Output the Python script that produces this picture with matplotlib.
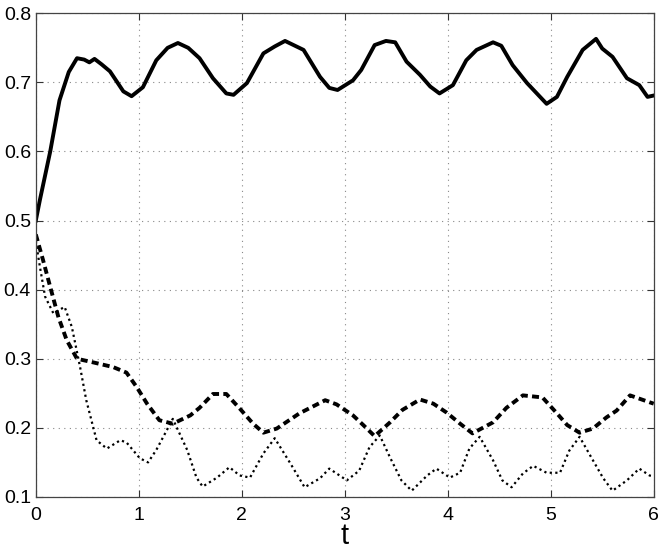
import matplotlib
matplotlib.use("Agg")
import matplotlib.pyplot as plt

# solid curve (top)
t_solid = [0.0, 0.04, 0.14, 0.23, 0.32, 0.40, 0.47, 0.52, 0.57, 0.64, 0.72, 0.85, 0.93, 1.04, 1.17, 1.28, 1.38, 1.48, 1.59,
           1.72, 1.85, 1.92, 2.05, 2.21, 2.32, 2.42, 2.6, 2.76, 2.85, 2.93, 3.08, 3.16, 3.29, 3.40, 3.49,
           3.6, 3.73, 3.83, 3.92, 4.05, 4.18, 4.28, 4.44, 4.52, 4.63, 4.77, 4.96, 5.06, 5.16, 5.31, 5.44,
           5.5, 5.6, 5.74, 5.86, 5.94, 6.0]
y_solid = [0.50, 0.53, 0.60, 0.674, 0.715, 0.735, 0.733, 0.729, 0.734, 0.726, 0.716, 0.687, 0.680, 0.693, 0.732, 0.750, 0.757, 0.750, 0.735,
           0.706, 0.684, 0.682, 0.699, 0.742, 0.752, 0.760, 0.747, 0.708, 0.692, 0.689, 0.703, 0.718, 0.754, 0.760, 0.758,
           0.730, 0.711, 0.694, 0.684, 0.696, 0.732, 0.747, 0.758, 0.753, 0.725, 0.699, 0.669, 0.679, 0.708, 0.747, 0.763,
           0.749, 0.737, 0.706, 0.696, 0.679, 0.681]

# dashed curve (middle)
t_dash = [0.0, 0.07, 0.14, 0.22, 0.30, 0.40, 0.55, 0.75, 0.88, 0.98, 1.08, 1.2, 1.33, 1.5, 1.59, 1.72, 1.85,
          1.98, 2.11, 2.21, 2.34, 2.56, 2.81, 2.92, 3.08, 3.18, 3.29, 3.44, 3.56, 3.73, 3.86, 3.99, 4.12,
          4.24, 4.44, 4.57, 4.73, 4.92, 5.06, 5.16, 5.28, 5.41, 5.54, 5.64, 5.77, 5.96, 6.0]
y_dash = [0.48, 0.443, 0.404, 0.36, 0.327, 0.300, 0.295, 0.288, 0.280, 0.259, 0.235, 0.211, 0.206, 0.218, 0.229, 0.249, 0.249,
          0.228, 0.206, 0.193, 0.199, 0.221, 0.240, 0.234, 0.218, 0.204, 0.188, 0.208, 0.226, 0.241, 0.235, 0.222, 0.206,
          0.192, 0.208, 0.229, 0.247, 0.244, 0.221, 0.204, 0.193, 0.199, 0.215, 0.225, 0.247, 0.237, 0.235]

# dotted curve (bottom)
t_dot = [0.0, 0.04, 0.09, 0.17, 0.28, 0.35, 0.43, 0.49, 0.59, 0.69, 0.82, 0.88, 1.01, 1.09, 1.17, 1.27, 1.33,
         1.47, 1.56, 1.62, 1.76, 1.88, 1.98, 2.08, 2.21, 2.32, 2.47, 2.61, 2.76, 2.85, 2.95, 3.02, 3.14,
         3.24, 3.34, 3.44, 3.55, 3.65, 3.8, 3.89, 4.02, 4.12, 4.21, 4.31, 4.44, 4.53, 4.62, 4.73, 4.83,
         4.96, 5.09, 5.18, 5.28, 5.41, 5.51, 5.6, 5.74, 5.86, 5.96, 6.0]
y_dot = [0.47, 0.433, 0.39, 0.366, 0.375, 0.346, 0.288, 0.24, 0.182, 0.17, 0.182, 0.179, 0.156, 0.15, 0.168, 0.196, 0.213,
         0.168, 0.128, 0.115, 0.128, 0.143, 0.131, 0.128, 0.163, 0.185, 0.149, 0.114, 0.127, 0.141, 0.131, 0.124, 0.138,
         0.172, 0.189, 0.157, 0.124, 0.109, 0.131, 0.141, 0.128, 0.135, 0.170, 0.187, 0.153, 0.124, 0.114, 0.134, 0.145,
         0.135, 0.135, 0.167, 0.187, 0.153, 0.127, 0.109, 0.124, 0.141, 0.131, 0.130]

plt.rcParams['font.family'] = ['Liberation Sans', 'DejaVu Sans']

fig = plt.figure(figsize=(6.63, 5.54), dpi=100)
ax = fig.add_axes([0.054, 0.103, 0.932, 0.873])

ax.plot(t_solid, y_solid, color='black', lw=2.8, solid_joinstyle='round')
ax.plot(t_dash, y_dash, color='black', lw=2.8, dashes=(1.8, 1.1))
ax.plot(t_dot, y_dot, color='black', lw=1.6, linestyle=(0, (1, 1.5)))

ax.set_xlim(0, 6)
ax.set_ylim(0.1, 0.8)
ax.set_xticks(range(7))
ax.set_yticks([0.1, 0.2, 0.3, 0.4, 0.5, 0.6, 0.7, 0.8])
ax.grid(True, color='#888888', linestyle=(0, (1, 4)), lw=0.8)
ax.tick_params(direction='in', top=True, right=True, labelsize=14, length=5, width=0.8, colors='#333333')
ax.tick_params(axis='x', pad=7)
ax.tick_params(labelcolor='black')
for s in ax.spines.values():
    s.set_color('#444444')
    s.set_linewidth(0.9)
ax.set_xlabel('t', fontsize=21, labelpad=-1)

fig.savefig('out.png', dpi=100)
